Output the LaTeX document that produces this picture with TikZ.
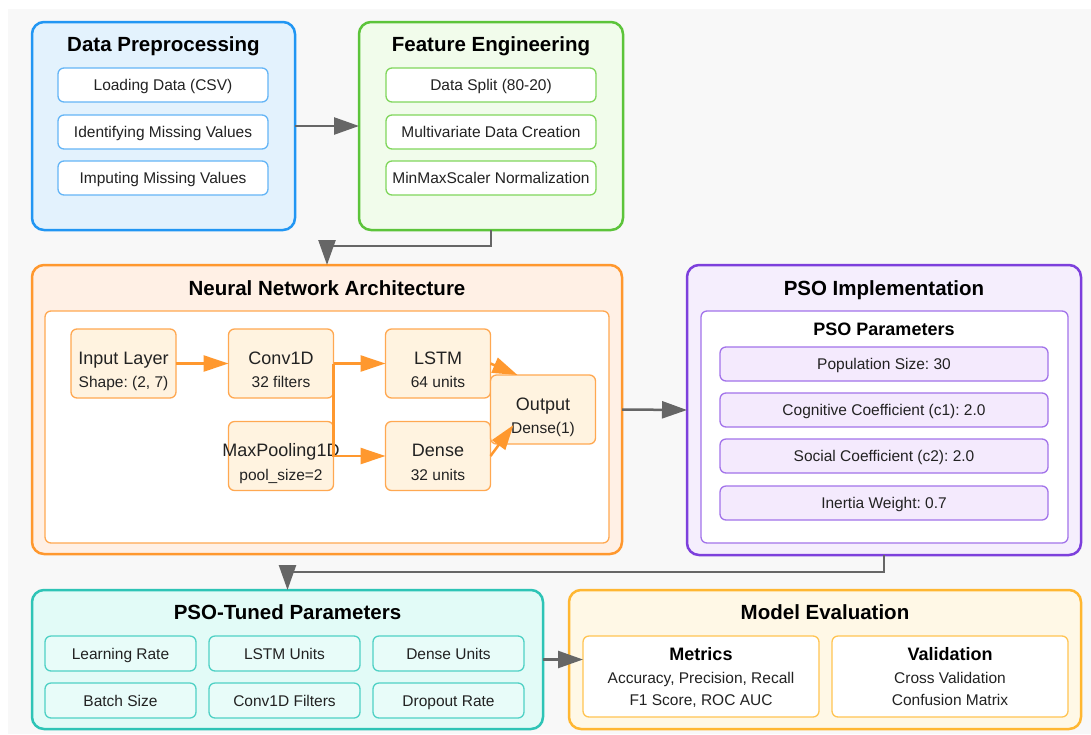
\documentclass[tikz,border=0pt]{standalone}
\usepackage{fontspec}
\setmainfont{Liberation Sans}
\usetikzlibrary{arrows.meta,calc}
\frenchspacing
\definecolor{bgc}{HTML}{F8F8F8}
\definecolor{txt}{HTML}{222222}
\definecolor{arr}{HTML}{666666}
\definecolor{dpB}{HTML}{2196F3}\definecolor{dpF}{HTML}{E3F2FD}\definecolor{dpS}{HTML}{64B5F6}
\definecolor{feB}{HTML}{5CC43A}\definecolor{feF}{HTML}{F1FCEB}\definecolor{feS}{HTML}{80D65C}
\definecolor{nnB}{HTML}{FF982E}\definecolor{nnF}{HTML}{FFF0E5}\definecolor{nnS}{HTML}{FFA851}\definecolor{nnL}{HTML}{FFF3E0}
\definecolor{psB}{HTML}{7D40DC}\definecolor{psF}{HTML}{F5EEFD}\definecolor{psS}{HTML}{A273EA}\definecolor{psL}{HTML}{F4EAFD}
\definecolor{ptB}{HTML}{2EC4B6}\definecolor{ptF}{HTML}{E2FBF7}\definecolor{ptS}{HTML}{4FD1C5}\definecolor{ptL}{HTML}{E8FCF9}
\definecolor{meB}{HTML}{FFB732}\definecolor{meF}{HTML}{FFF8E6}\definecolor{meS}{HTML}{FFC452}
\tikzset{
  panel/.style={draw, line width=2.5pt, rounded corners=12pt, inner sep=0pt, outer sep=0pt, anchor=north west},
  sub/.style={draw, line width=1.3pt, rounded corners=6pt, inner sep=0pt, outer sep=0pt, anchor=north west,
    font=\fontsize{15.5}{18}\selectfont, text=txt, text height=11.1pt, text depth=0pt},
  layerbox/.style={draw=nnS, fill=nnL, line width=1.3pt, rounded corners=6pt, inner sep=0pt, outer sep=0pt,
    anchor=north west, minimum width=105pt, minimum height=69pt},
  ttl/.style={font=\bfseries\fontsize{20.5}{24}\selectfont, inner sep=0pt, text height=14.7pt, text depth=0pt},
  subttl/.style={font=\bfseries\fontsize{18}{22}\selectfont, inner sep=0pt, text height=12.9pt, text depth=0pt},
  lname/.style={font=\fontsize{18}{22}\selectfont, text=txt, inner sep=0pt, text height=12.9pt, text depth=0pt},
  lsub/.style={font=\fontsize{15.5}{18}\selectfont, text=txt, inner sep=0pt, text height=11.1pt, text depth=0pt},
  garrow/.style={draw=arr, line width=2.5pt, -{Triangle[length=25pt,width=17pt]}},
  oarrow/.style={draw=nnB, line width=2.5pt, -{Triangle[length=25pt,width=16pt]}},
}
\begin{document}
\begin{tikzpicture}[x=1pt,y=-1pt]
\useasboundingbox (0,0) rectangle (1091,734);
\fill[white] (0,0) rectangle (1091,734);
\fill[bgc] (8,9) rectangle (1091,734);

% Data Preprocessing
\node[panel, draw=dpB, fill=dpF, minimum width=263pt, minimum height=208pt] (dp) at (32,22) {};
\node[ttl] (dpT) at (163.5,44) {Data Preprocessing};
\node[sub, draw=dpS, fill=white, minimum width=210pt, minimum height=34pt] (dp1) at (58,68) {Loading Data (CSV)};
\node[sub, draw=dpS, fill=white, minimum width=210pt, minimum height=34pt] (dp2) at (58,115) {Identifying Missing Values};
\node[sub, draw=dpS, fill=white, minimum width=210pt, minimum height=34pt] (dp3) at (58,161) {Imputing Missing Values};

% Feature Engineering
\node[panel, draw=feB, fill=feF, minimum width=264pt, minimum height=208pt] (fe) at (359,22) {};
\node[ttl] (feT) at (491,44) {Feature Engineering};
\node[sub, draw=feS, fill=white, minimum width=210pt, minimum height=34pt] (fe1) at (386,68) {Data Split (80-20)};
\node[sub, draw=feS, fill=white, minimum width=210pt, minimum height=34pt] (fe2) at (386,115) {Multivariate Data Creation};
\node[sub, draw=feS, fill=white, minimum width=210pt, minimum height=34pt] (fe3) at (386,161) {MinMaxScaler Normalization};

% Neural Network Architecture
\node[panel, draw=nnB, fill=nnF, minimum width=590pt, minimum height=289pt] (nn) at (32,265) {};
\node[ttl] (nnT) at (327,288) {Neural Network Architecture};
\node[draw=nnS, fill=white, line width=1.3pt, rounded corners=6pt, inner sep=0pt, outer sep=0pt, anchor=north west,
  minimum width=564pt, minimum height=232pt] (nnP) at (45,311) {};

\node[layerbox] (inl) at (71,329) {};
\node[layerbox] (conv) at (228.5,329) {};
\node[layerbox] (lstm) at (385.5,329) {};
\node[layerbox] (mp) at (228.5,421.5) {};
\node[layerbox] (dense) at (385.5,421.5) {};
\node[layerbox] (out) at (490.5,375) {};

\node[lname] (inlA) at ($(inl.center)+(0,-5.5)$) {Input Layer};
\node[lsub] (inlB) at ($(inl.center)+(0,18.5)$) {Shape: (2, 7)};
\node[lname] (convA) at ($(conv.center)+(0,-5.5)$) {Conv1D};
\node[lsub] (convB) at ($(conv.center)+(0,18.5)$) {32 filters};
\node[lname] (lstmA) at ($(lstm.center)+(0,-5.5)$) {LSTM};
\node[lsub] (lstmB) at ($(lstm.center)+(0,18.5)$) {64 units};
\node[lname] (mpA) at ($(mp.center)+(0,-5.5)$) {MaxPooling1D};
\node[lsub] (mpB) at ($(mp.center)+(0,18.5)$) {pool\_size=2};
\node[lname] (denseA) at ($(dense.center)+(0,-5.5)$) {Dense};
\node[lsub] (denseB) at ($(dense.center)+(0,18.5)$) {32 units};
\node[lname] (outA) at ($(out.center)+(0,-5.5)$) {Output};
\node[lsub] (outB) at ($(out.center)+(0,18.5)$) {Dense(1)};

% PSO Implementation
\node[panel, draw=psB, fill=psF, minimum width=394pt, minimum height=290pt] (pso) at (687,265) {};
\node[ttl] (psoT) at (884,288) {PSO Implementation};
\node[draw=psS, fill=white, line width=1.3pt, rounded corners=6pt, inner sep=0pt, outer sep=0pt, anchor=north west,
  minimum width=367pt, minimum height=232pt] (psoP) at (701,311) {};
\node[subttl] (psoPT) at (884,329) {PSO Parameters};
\node[sub, draw=psS, fill=psL, minimum width=328pt, minimum height=34pt] (ps1) at (720,347) {Population Size: 30};
\node[sub, draw=psS, fill=psL, minimum width=328pt, minimum height=34pt] (ps2) at (720,393) {Cognitive Coefficient (c1): 2.0};
\node[sub, draw=psS, fill=psL, minimum width=328pt, minimum height=34pt] (ps3) at (720,439) {Social Coefficient (c2): 2.0};
\node[sub, draw=psS, fill=psL, minimum width=328pt, minimum height=34pt] (ps4) at (720,486) {Inertia Weight: 0.7};

% PSO-Tuned Parameters
\node[panel, draw=ptB, fill=ptF, minimum width=511pt, minimum height=139pt] (pt) at (32,590) {};
\node[ttl] (ptT) at (287.5,612) {PSO-Tuned Parameters};
\node[sub, draw=ptS, fill=ptL, minimum width=151pt, minimum height=35pt] (pt1) at (45,636) {Learning Rate};
\node[sub, draw=ptS, fill=ptL, minimum width=151pt, minimum height=35pt] (pt2) at (209,636) {LSTM Units};
\node[sub, draw=ptS, fill=ptL, minimum width=151pt, minimum height=35pt] (pt3) at (373,636) {Dense Units};
\node[sub, draw=ptS, fill=ptL, minimum width=151pt, minimum height=35pt] (pt4) at (45,683) {Batch Size};
\node[sub, draw=ptS, fill=ptL, minimum width=151pt, minimum height=35pt] (pt5) at (209,683) {Conv1D Filters};
\node[sub, draw=ptS, fill=ptL, minimum width=151pt, minimum height=35pt] (pt6) at (373,683) {Dropout Rate};

% Model Evaluation
\node[panel, draw=meB, fill=meF, minimum width=512pt, minimum height=139pt] (me) at (569,590) {};
\node[ttl] (meT) at (825,612) {Model Evaluation};
\node[sub, draw=meS, fill=white, minimum width=236pt, minimum height=81pt] (met) at (583,636) {};
\node[sub, draw=meS, fill=white, minimum width=236pt, minimum height=81pt] (val) at (832,636) {};
\node[subttl] (metA) at ($(met.center)+(0,-22.5)$) {Metrics};
\node[lsub] (metB) at ($(met.center)+(0,1.5)$) {Accuracy, Precision, Recall};
\node[lsub] (metC) at ($(met.center)+(0,23.5)$) {F1 Score, ROC AUC};
\node[subttl] (valA) at ($(val.center)+(0,-22.5)$) {Validation};
\node[lsub] (valB) at ($(val.center)+(0,1.5)$) {Cross Validation};
\node[lsub] (valC) at ($(val.center)+(0,23.5)$) {Confusion Matrix};

% gray connectors
\draw[garrow] (dp.east) -- (fe.west);
\draw[garrow] (fe.south) -- ++(0,16) -| (nn.north);
\draw[garrow] (nn.east) -- (pso.west);
\draw[garrow] (pso.south) -- ++(0,17) -| (pt.north);
\draw[garrow] (pt.east) -- (pt.east -| met.west);

% orange connectors
\draw[oarrow] (inl.east) -- (conv.west);
\draw[oarrow] (conv.east) -- (lstm.west);
\draw[oarrow] (conv.east) |- (dense.west);
\draw[oarrow] (lstm.east) -- ($(out.north west)+(27,0)$);
\draw[oarrow] (dense.east) -- ($(out.south west)+(23,-19)$);
\end{tikzpicture}
\end{document}
